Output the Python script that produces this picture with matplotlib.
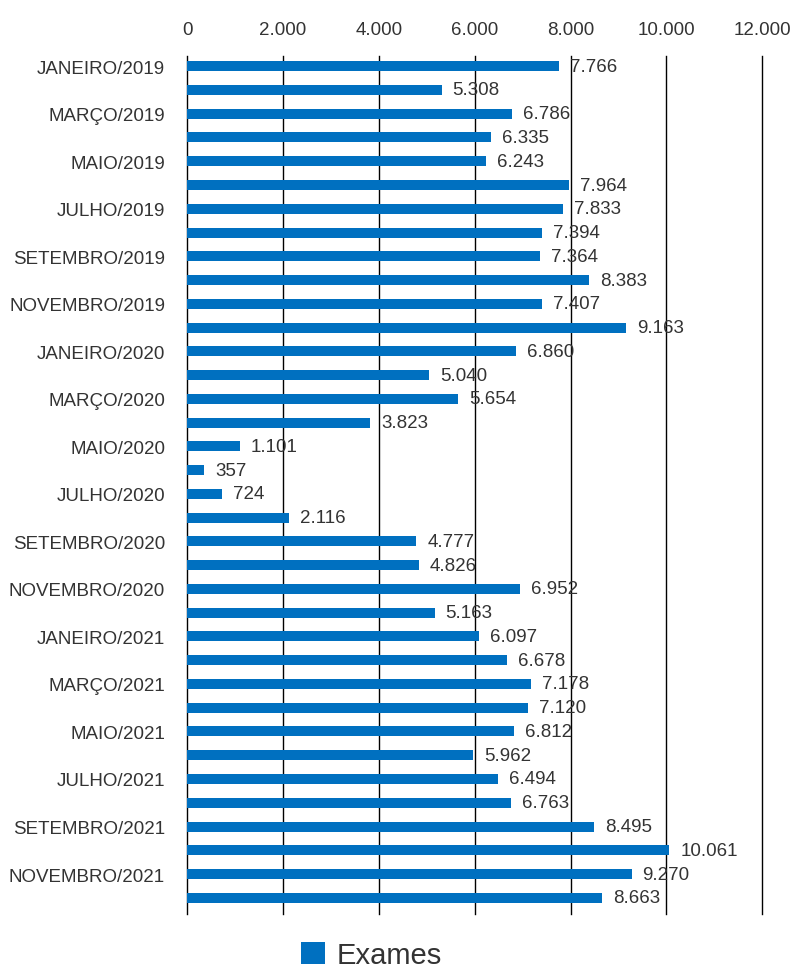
import numpy as np
import matplotlib.pyplot as plt
from matplotlib.ticker import FuncFormatter

plt.rcParams['font.family'] = ['Liberation Sans', 'DejaVu Sans']

# Dados
meses = ["JANEIRO", "FEVEREIRO", "MARÇO", "ABRIL", "MAIO", "JUNHO",
         "JULHO", "AGOSTO", "SETEMBRO", "OUTUBRO", "NOVEMBRO", "DEZEMBRO"]
anos = [2019, 2020, 2021]
categorias = [f"{m}/{a}" for a in anos for m in meses]
exames = [7766, 5308, 6786, 6335, 6243, 7964, 7833, 7394, 7364, 8383, 7407, 9163,
          6860, 5040, 5654, 3823, 1101, 357, 724, 2116, 4777, 4826, 6952, 5163,
          6097, 6678, 7178, 7120, 6812, 5962, 6494, 6763, 8495, 10061, 9270, 8663]


def fmt_br(v):
    return f"{int(v):,}".replace(",", ".")


cor = "#0070C0"
texto = "#333333"

fig = plt.figure(figsize=(7.9, 9.7), dpi=100)
ax = fig.add_axes([0.237, 0.057, 0.728, 0.884])

y = np.arange(len(exames))
ax.barh(y, exames, height=0.42, color=cor, label="Exames", zorder=2)

# Rótulos de valor
for yi, v in zip(y, exames):
    ax.text(v + 230, yi, fmt_br(v), va="center", ha="left", fontsize=13.5,
            color=texto, zorder=3)

ax.set_xlim(0, 12000)
ax.set_ylim(len(exames) - 1 + 0.67, -0.42)
ax.set_xticks(np.arange(0, 12001, 2000))
ax.xaxis.set_major_formatter(FuncFormatter(lambda v, p: fmt_br(v)))
ax.xaxis.tick_top()
ax.grid(axis="x", color="black", linewidth=1, zorder=1)
for gl in ax.get_xgridlines():
    gl.set_clip_on(False)

ax.set_yticks(y[::2])
ax.set_yticklabels(categorias[::2])
ax.tick_params(axis="both", length=0, labelsize=13.5, colors=texto)
ax.tick_params(axis="x", pad=13)
ax.tick_params(axis="y", pad=16)
for s in ax.spines.values():
    s.set_visible(False)

fig.legend(loc="lower center", bbox_to_anchor=(0.47, -0.021), frameon=False,
           fontsize=21, handlelength=0.8, handleheight=0.8, handletextpad=0.4,
           borderpad=0.2, labelcolor=texto)

plt.savefig("out.png", dpi=100)
